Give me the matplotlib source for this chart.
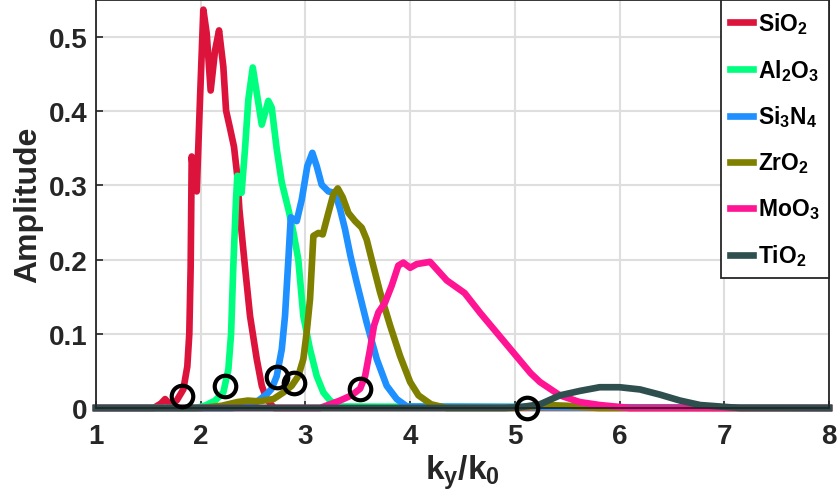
import numpy as np
import matplotlib
matplotlib.use("Agg")
import matplotlib.pyplot as plt

plt.rcParams['font.family'] = ['Liberation Sans', 'DejaVu Sans']
plt.rcParams['font.weight'] = 'bold'
plt.rcParams['mathtext.fontset'] = 'custom'
plt.rcParams['mathtext.rm'] = 'Liberation Sans:bold'
plt.rcParams['mathtext.bf'] = 'Liberation Sans:bold'
plt.rcParams['mathtext.it'] = 'Liberation Sans:bold'

# amplitude spectra vs k_y/k_0 for each material
x_sio2 = [1.0, 1.55, 1.62, 1.66, 1.70, 1.77, 1.834, 1.872, 1.891, 1.904, 1.914, 1.935, 1.962, 1.993, 2.025,
          2.057, 2.095, 2.137, 2.175, 2.216, 2.242, 2.28, 2.318, 2.35, 2.369, 2.423, 2.471, 2.535,
          2.583, 2.63, 2.70, 8.0]
y_sio2 = [0.0, 0.0, 0.006, 0.012, 0.006, 0.01, 0.025, 0.056, 0.10, 0.19, 0.339, 0.31, 0.292, 0.415, 0.537,
          0.505, 0.428, 0.482, 0.509, 0.46, 0.401, 0.377, 0.352, 0.312, 0.268, 0.19, 0.124, 0.066,
          0.03, 0.012, 0.0, 0.0]

x_al2o3 = [1.0, 1.95, 2.04, 2.137, 2.216, 2.264, 2.29, 2.311, 2.337, 2.35, 2.39, 2.423, 2.455, 2.497,
           2.535, 2.583, 2.646, 2.678, 2.726, 2.774, 2.837, 2.885, 2.932, 2.98, 3.044, 3.108, 3.171,
           3.235, 3.33, 8.0]
y_al2o3 = [0.0, 0.0, 0.003, 0.01, 0.021, 0.052, 0.10, 0.19, 0.281, 0.313, 0.29, 0.349, 0.416, 0.459,
           0.425, 0.382, 0.414, 0.405, 0.349, 0.304, 0.268, 0.237, 0.20, 0.124, 0.079, 0.043, 0.021,
           0.01, 0.002, 0.0]

x_si3n4 = [1.0, 2.30, 2.40, 2.50, 2.57, 2.64, 2.678, 2.726, 2.774, 2.805, 2.837, 2.86, 2.917, 2.965,
           3.018, 3.066, 3.108, 3.155, 3.219, 3.283, 3.331, 3.378, 3.43, 3.49, 3.585, 3.681, 3.776,
           3.872, 3.97, 8.0]
y_si3n4 = [0.0, 0.0, 0.002, 0.005, 0.012, 0.02, 0.026, 0.043, 0.079, 0.124, 0.20, 0.257, 0.252, 0.281,
           0.326, 0.344, 0.326, 0.301, 0.292, 0.29, 0.268, 0.241, 0.205, 0.169, 0.115, 0.066, 0.03,
           0.012, 0.002, 0.0]

x_zro2 = [1.0, 2.0, 2.2, 2.35, 2.45, 2.55, 2.694, 2.79, 2.869, 2.932, 2.98, 3.012, 3.044, 3.076, 3.124,
          3.165, 3.219, 3.267, 3.309, 3.356, 3.41, 3.474, 3.538, 3.585, 3.633, 3.713, 3.809, 3.904,
          4.0, 4.08, 4.2, 4.35, 5.0, 5.3, 5.5, 5.8, 8.0]
y_zro2 = [0.0, 0.0, 0.003, 0.008, 0.01, 0.009, 0.012, 0.021, 0.03, 0.043, 0.066, 0.102, 0.147, 0.232, 0.236,
          0.234, 0.263, 0.288, 0.296, 0.284, 0.263, 0.252, 0.243, 0.227, 0.20, 0.156, 0.111, 0.07,
          0.035, 0.017, 0.005, 0.0, 0.0, 0.004, 0.003, 0.0, 0.0]

x_moo3 = [1.0, 3.14, 3.33, 3.44, 3.522, 3.57, 3.617, 3.655, 3.697, 3.76, 3.824, 3.887, 3.935, 4.0,
          4.063, 4.19, 4.35, 4.52, 4.67, 4.83, 4.99, 5.15, 5.24, 5.43, 5.62, 5.81, 6.1, 8.0]
y_moo3 = [0.0, 0.0, 0.01, 0.017, 0.026, 0.043, 0.079, 0.111, 0.129, 0.142, 0.165, 0.192, 0.196, 0.189,
          0.194, 0.197, 0.172, 0.155, 0.128, 0.101, 0.074, 0.047, 0.035, 0.017, 0.008, 0.004, 0.0, 0.0]

x_tio2 = [1.0, 4.9, 5.05, 5.24, 5.43, 5.62, 5.81, 6.0, 6.195, 6.386, 6.578, 6.77, 6.96, 7.15, 8.0]
y_tio2 = [0.0, 0.0, 0.001, 0.005, 0.017, 0.023, 0.028, 0.028, 0.025, 0.018, 0.01, 0.004, 0.002, 0.0, 0.0]

# marked onset points
x_marks = [1.824, 2.232, 2.732, 2.891, 3.521, 5.12]
y_marks = [0.016, 0.029, 0.042, 0.034, 0.025, 0.0]

names = [r'$\mathbf{SiO_2}$', r'$\mathbf{Al_2O_3}$', r'$\mathbf{Si_3N_4}$',
         r'$\mathbf{ZrO_2}$', r'$\mathbf{MoO_3}$', r'$\mathbf{TiO_2}$']
colors = ['#dc143c', '#00ff7f', '#1e90ff', '#808000', '#ff1493', '#2f4f4f']
series = [(x_sio2, y_sio2), (x_al2o3, y_al2o3), (x_si3n4, y_si3n4),
          (x_zro2, y_zro2), (x_moo3, y_moo3), (x_tio2, y_tio2)]

fig = plt.figure(figsize=(8.4, 5.02), dpi=100)
ax = fig.add_axes([96 / 840, 1 - 409 / 502, 733 / 840, 408 / 502])

for (xs, ys), c, n in zip(series, colors, names):
    ax.plot(xs, ys, color=c, lw=4.8, label=n, solid_joinstyle='round', clip_on=False)

ax.plot(x_marks, y_marks, 'o', mfc='none', mec='black', ms=15.5, mew=3, zorder=5, clip_on=False)

ax.set_xlim(1, 8)
ax.set_ylim(0, 0.55)
ax.set_xticks(range(1, 9))
ax.set_yticks([0, 0.1, 0.2, 0.3, 0.4, 0.5])
ax.set_yticklabels(['0', '0.1', '0.2', '0.3', '0.4', '0.5'])
ax.tick_params(direction='in', length=5, width=1.2, color='#262626', labelsize=20)
ax.tick_params(axis='x', pad=11)
ax.tick_params(axis='y', pad=6)
for lab in ax.get_xticklabels() + ax.get_yticklabels():
    lab.set_fontweight('bold')
    lab.set_color('#262626')
ax.grid(True, color='#dedede', lw=1.5)
ax.set_axisbelow(True)
for s in ax.spines.values():
    s.set_color('#262626')
    s.set_linewidth(1.3)

ax.set_xlabel(r'$\mathbf{k_y/k_0}$', fontsize=24, color='#262626', labelpad=2)
ax.set_ylabel('Amplitude', fontsize=23, fontweight='bold', color='#262626', labelpad=4)

leg = ax.legend(loc='upper right', borderaxespad=0, fontsize=16.5, handlelength=1.0,
                handletextpad=0.2, labelspacing=0.92, borderpad=0.42, fancybox=False,
                framealpha=1, edgecolor='#262626')
leg.get_frame().set_linewidth(1.3)

fig.savefig('out.png', dpi=100)
